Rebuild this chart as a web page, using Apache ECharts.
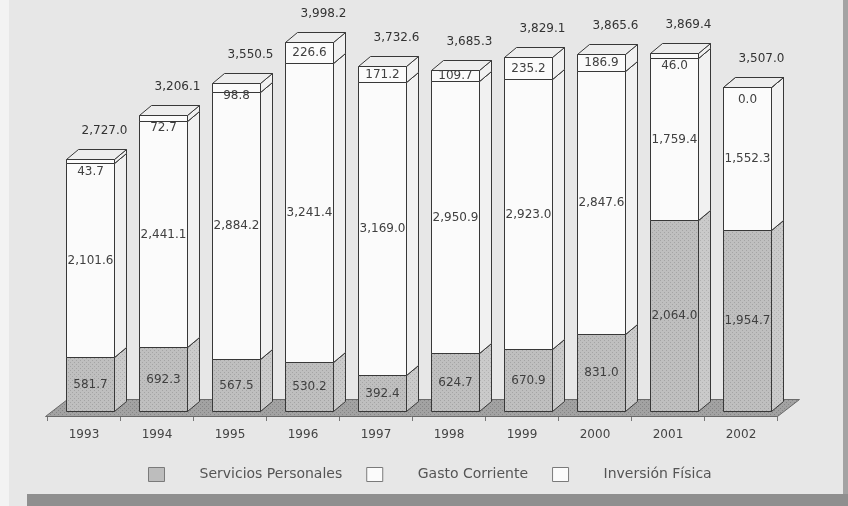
<!DOCTYPE html>
<html>
<head>
<meta charset="utf-8">
<script src="https://cdn.jsdelivr.net/npm/echarts@6/dist/echarts.min.js"></script>
<style>
  html, body { margin: 0; padding: 0; background: #f2f2f2; }
  #chart { width: 848px; height: 506px; }
</style>
</head>
<body>
<div id="chart"></div>
<script>
// Presupuesto por año: componentes del gasto (millones)
const years = ['1993', '1994', '1995', '1996', '1997', '1998', '1999', '2000', '2001', '2002'];
const serviciosPersonales = [581.7, 692.3, 567.5, 530.2, 392.4, 624.7, 670.9, 831.0, 2064.0, 1954.7];
const gastoCorriente = [2101.6, 2441.1, 2884.2, 3241.4, 3169.0, 2950.9, 2923.0, 2847.6, 1759.4, 1552.3];
const inversionFisica = [43.7, 72.7, 98.8, 226.6, 171.2, 109.7, 235.2, 186.9, 46.0, 0.0];
const totals = [2727.0, 3206.1, 3550.5, 3998.2, 3732.6, 3685.3, 3829.1, 3865.6, 3869.4, 3507.0];
const seriesNames = ['Servicios Personales', 'Gasto Corriente', 'Inversión Física'];

const fmt = v => v.toLocaleString('en-US', { minimumFractionDigits: 1, maximumFractionDigits: 1 });

// small dotted fill, like a printed halftone
function dotPattern(base, dot) {
  const c = document.createElement('canvas');
  c.width = 4; c.height = 4;
  const g = c.getContext('2d');
  g.fillStyle = base; g.fillRect(0, 0, 4, 4);
  g.fillStyle = dot; g.fillRect(0, 0, 1, 1); g.fillRect(2, 2, 1, 1);
  return { image: c, repeat: 'repeat' };
}

const EDGE = '#383838';
const FONT_VAL = '12px "DejaVu Sans", sans-serif';
const FONT_TOT = '12px "DejaVu Sans", sans-serif';

// oblique depth used for the pseudo-3D boxes
const BAR_OFF = [6, -5];     // bar placed inside the floor depth
const BAR_DEPTH = [12, -10];
const FLOOR_DEPTH = [22, -17];

const faces = [
  { front: dotPattern('#bfbfbf', '#a4a4a4'), side: dotPattern('#cacaca', '#b2b2b2'), top: '#d6d6d6' },
  { front: '#fbfbfb', side: '#f1f1f1', top: '#ededed' },
  { front: '#fbfbfb', side: '#f1f1f1', top: '#ededed' }
];

const stacks = [serviciosPersonales, gastoCorriente, inversionFisica];

function segmentData(k) {
  return years.map((y, i) => {
    let base = 0;
    for (let j = 0; j < k; j++) base += stacks[j][i];
    return [i, base, stacks[k][i]];
  });
}

const r = v => Math.round(v) + 0.5;

function makeRenderer(k) {
  return function (params, api) {
    const i = api.value(0), base = api.value(1), val = api.value(2);
    const p0 = api.coord([i, base]);
    const p1 = api.coord([i, base + val]);
    const band = api.size([1, 0])[0];
    const bw = Math.round(band * 0.66);
    const x0 = r(p0[0] - bw / 2 + BAR_OFF[0]);
    const x1 = x0 + bw;
    const yb = r(p0[1] + BAR_OFF[1]);
    const yt = r(p1[1] + BAR_OFF[1]);
    const [dx, dy] = BAR_DEPTH;
    const f = faces[k];
    const lineStyle = { stroke: EDGE, lineWidth: 1 };
    const children = [
      { type: 'polygon', shape: { points: [[x1, yb], [x1 + dx, yb + dy], [x1 + dx, yt + dy], [x1, yt]] },
        style: Object.assign({ fill: f.side }, lineStyle) },
      { type: 'polygon', shape: { points: [[x0, yt], [x0 + dx, yt + dy], [x1 + dx, yt + dy], [x1, yt]] },
        style: Object.assign({ fill: faces[2].top }, lineStyle) },
      { type: 'rect', shape: { x: x0, y: yt, width: bw, height: yb - yt },
        style: Object.assign({ fill: f.front }, lineStyle) }
    ];
    const h = yb - yt;
    const ly = h < 10 ? yt + 12 : (yt + yb) / 2;
    children.push({ type: 'text', z2: 10,
      style: { text: fmt(val), x: (x0 + x1) / 2, y: ly, font: FONT_VAL, fill: '#404040', align: 'center', verticalAlign: 'middle' } });
    if (k === 2) {
      children.push({ type: 'text', z2: 10,
        style: { text: fmt(totals[i]), x: (x0 + x1) / 2 + 14, y: yt - 29, font: FONT_TOT, fill: '#333', align: 'center', verticalAlign: 'middle' } });
    }
    return { type: 'group', children };
  };
}

function renderFloor(params, api) {
  const band = api.size([1, 0])[0];
  const a = api.coord([0, 0]);
  const b = api.coord([years.length - 1, 0]);
  const L = a[0] - band / 2 - 2, R = b[0] + band / 2;
  const y = r(a[1]);
  const [dx, dy] = FLOOR_DEPTH;
  return {
    type: 'polygon',
    shape: { points: [[L, y], [R, y], [R + dx, y + dy], [L + dx, y + dy]] },
    style: { fill: dotPattern('#a2a2a2', '#858585'), stroke: '#6a6a6a', lineWidth: 1 }
  };
}

const legendStyles = [
  { color: '#bdbdbd', borderColor: '#7a7a7a', borderWidth: 1 },
  { color: '#fbfbfb', borderColor: '#7a7a7a', borderWidth: 1 },
  { color: '#fbfbfb', borderColor: '#7a7a7a', borderWidth: 1 }
];

const chart = echarts.init(document.getElementById('chart'), null, { renderer: 'canvas' });
chart.setOption({
  animation: false,
  backgroundColor: '#e7e7e7',
  graphic: [
    { type: 'rect', z: -10, shape: { x: 0, y: 0, width: 9, height: 506 }, style: { fill: '#f3f3f3' } },
    { type: 'rect', z: -10, shape: { x: 843, y: 0, width: 5, height: 494 }, style: { fill: '#a3a3a3' } },
    { type: 'rect', z: -10, shape: { x: 27, y: 494, width: 821, height: 12 }, style: { fill: '#8f8f8f' } }
  ],
  grid: { left: 47.5, right: 70.5, top: 46.4, bottom: 90 },
  xAxis: {
    type: 'category',
    data: years,
    axisLine: { show: false },
    axisTick: { show: true, length: 5, lineStyle: { color: '#777' } },
    axisLabel: { margin: 13, color: '#444', fontSize: 12, fontFamily: 'DejaVu Sans' }
  },
  yAxis: { type: 'value', min: 0, max: 4000, show: false, splitLine: { show: false } },
  legend: {
    left: 148, top: 467, padding: 0,
    itemWidth: 16, itemHeight: 14, itemGap: 24,
    icon: 'rect',
    textStyle: { fontFamily: 'DejaVu Sans', fontSize: 14, color: '#555', padding: [0, 0, 0, 30] },
    data: seriesNames.map((n, k) => ({ name: n, itemStyle: legendStyles[k] }))
  },
  series: [
    { type: 'custom', name: 'floor', z: 1, data: [[0, 0]], renderItem: renderFloor, silent: true },
    ...seriesNames.map((n, k) => ({
      type: 'custom', name: n, z: 2,
      itemStyle: legendStyles[k],
      data: segmentData(k),
      encode: { x: 0, y: [1, 2] },
      renderItem: makeRenderer(k)
    }))
  ]
});
</script>
</body>
</html>
